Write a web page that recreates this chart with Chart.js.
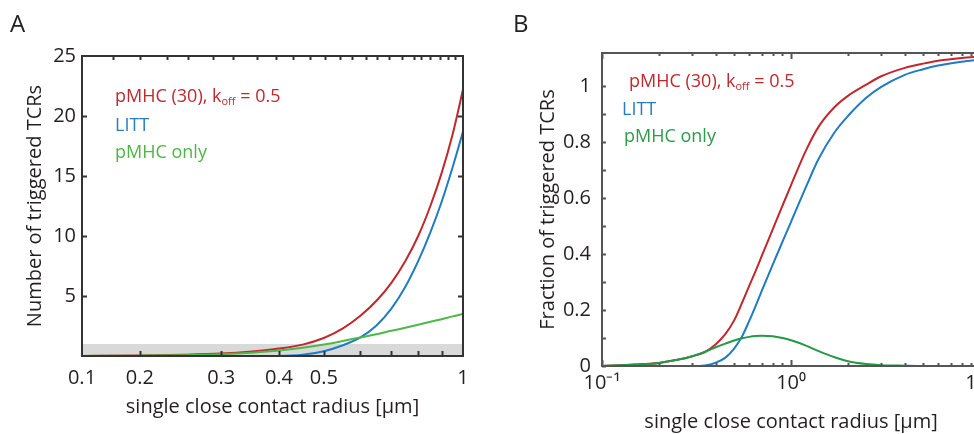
<!DOCTYPE html>
<html>
<head>
<meta charset="utf-8">
<script src="https://cdn.jsdelivr.net/npm/chart.js@4.4.1/dist/chart.umd.min.js"></script>
<style>
  html, body { margin: 0; padding: 0; background: #fff; overflow: hidden; width: 974px; height: 434px; }
  #wrap { position: relative; width: 974px; height: 434px; overflow: hidden; }
  canvas { position: absolute; top: 0; }
  #chartA { left: 0; }
  #chartB { left: 487px; }
  .txt { position: absolute; font-family: "Open Sans", sans-serif; white-space: nowrap; line-height: 1; }
  .letter { font-size: 24px; color: #222; }
  .leg { font-size: 18px; }
  .leg sub { font-size: 11px; vertical-align: -3px; }
</style>
</head>
<body>
<div id="wrap">
  <canvas id="chartA" width="487" height="434"></canvas>
  <canvas id="chartB" width="513" height="434"></canvas>

  <div class="txt letter" style="left:10px;top:11px">A</div>
  <div class="txt letter" style="left:513px;top:11px">B</div>

  <div class="txt leg" style="left:115px;top:86px;color:#c0282e">pMHC (30), k<sub>off</sub> = 0.5</div>
  <div class="txt leg" style="left:115px;top:115px;color:#2a7cc2">LITT</div>
  <div class="txt leg" style="left:115px;top:142px;color:#4fb548">pMHC only</div>

  <div class="txt leg" style="left:629px;top:71px;color:#c0282e">pMHC (30), k<sub>off</sub> = 0.5</div>
  <div class="txt leg" style="left:622px;top:99px;color:#2a7cc2">LITT</div>
  <div class="txt leg" style="left:624px;top:126px;color:#2e9a4b">pMHC only</div>
</div>

<script>
// ---- panel A: number of triggered TCRs vs radius ----
const radiusA = [0.15, 0.2, 0.25, 0.3, 0.35, 0.4, 0.45, 0.5, 0.55, 0.6, 0.65, 0.7, 0.75, 0.8, 0.85, 0.9, 0.95, 1.0];
const countKoff = [0.01, 0.04, 0.1, 0.2, 0.38, 0.62, 0.95, 1.5, 2.3, 3.35, 4.6, 6.1, 7.9, 10.0, 12.5, 15.3, 18.5, 22.2];
const countLitt = [0, 0, 0, 0, 0, 0.01, 0.1, 0.4, 0.9, 1.55, 2.55, 3.95, 5.75, 7.9, 10.3, 12.9, 15.75, 18.7];
const countPmhcOnly = [0.01, 0.03, 0.07, 0.15, 0.28, 0.45, 0.68, 0.95, 1.25, 1.55, 1.82, 2.1, 2.35, 2.6, 2.85, 3.07, 3.3, 3.5];
const bandRadius = [0.15, 1.0];
const bandLevel = [1, 1];

const xTicksA = [0.15, 0.2, 0.3, 0.4, 0.5, 0.6, 0.7, 0.8, 0.9, 1.0];
const xLabelsA = ['0.1', '0.2', '0.3', '0.4', '0.5', '', '', '', '', '1'];
const xTopTicksA = [0.175, 0.2, 0.229, 0.254, 0.288, 0.318, 0.358, 0.395, 0.428, 0.466, 0.503, 0.543, 0.576,
  0.616, 0.653, 0.691, 0.737, 0.783, 0.81, 0.85, 0.89, 0.93, 0.96];
const yTicksA = [5, 10, 15, 20, 25];

// ---- panel B: fraction of triggered TCRs vs radius ----
const radiusB = [0.1, 0.15, 0.2, 0.25, 0.3, 0.35, 0.4, 0.45, 0.5, 0.55, 0.6, 0.65, 0.7, 0.8, 0.9, 1.0,
  1.2, 1.4, 1.7, 2, 2.5, 3, 4, 5, 6, 8, 10];
const fracKoff = [0, 0.005, 0.011, 0.022, 0.035, 0.05, 0.078, 0.115, 0.163, 0.225, 0.285, 0.34, 0.393, 0.488, 0.572, 0.646,
  0.77, 0.855, 0.925, 0.965, 1.005, 1.035, 1.065, 1.08, 1.09, 1.1, 1.105];
const fracLitt = [0, 0, 0, 0, 0, 0.002, 0.012, 0.03, 0.062, 0.105, 0.16, 0.215, 0.268, 0.362, 0.443, 0.515,
  0.64, 0.74, 0.835, 0.893, 0.958, 0.997, 1.04, 1.06, 1.073, 1.087, 1.095];
const fracPmhcOnly = [0, 0.005, 0.011, 0.022, 0.035, 0.05, 0.067, 0.08, 0.091, 0.099, 0.104, 0.107, 0.108, 0.106, 0.1, 0.092,
  0.073, 0.053, 0.031, 0.017, 0.007, 0.003, 0.001, 0, 0, 0, 0];

const xTicksB = [0.1, 0.2, 0.3, 0.4, 0.5, 0.6, 0.7, 0.8, 0.9, 1, 2, 3, 4, 5, 6, 7, 8, 9, 10];
const xMajorB = [0.1, 1, 10];
const xLabelsB = {0.1: '10⁻¹', 1: '10⁰', 10: '10¹'};
const yTicksB = [0, 0.1, 0.2, 0.3, 0.4, 0.5, 0.6, 0.7, 0.8, 0.9, 1.0];
const yLabelsB = ['0', '', '0.2', '', '0.4', '', '0.6', '', '0.8', '', '1'];

const RED = '#c1272d', BLUE = '#1f7bc4', GREEN_A = '#4cb848', GREEN_B = '#239a45';
const FONT = '"Open Sans", sans-serif';
const TEXT = '#231f20';

const pts = (xs, ys) => xs.map((x, i) => ({x, y: ys[i]}));

function curve(data, color) {
  return {data, borderColor: color, borderWidth: 2, pointRadius: 0, fill: false,
    cubicInterpolationMode: 'monotone'};
}

// box round the plot with MATLAB style inward ticks
const boxTicks = {
  id: 'boxTicks',
  afterDatasetsDraw(chart, args, opts) {
    const {ctx, chartArea: a} = chart;
    ctx.save();
    ctx.strokeStyle = opts.color;
    ctx.lineWidth = opts.width;
    for (const m of opts.marks) {
      const s = chart.scales[m.scale];
      ctx.beginPath();
      for (const v of m.values) {
        const p = Math.round(s.getPixelForValue(v)) + 0.5;
        if (s.isHorizontal()) {
          if (m.bottom) { ctx.moveTo(p, a.bottom); ctx.lineTo(p, a.bottom - m.len); }
          if (m.top) { ctx.moveTo(p, a.top); ctx.lineTo(p, a.top + m.len); }
        } else {
          if (m.left) { ctx.moveTo(a.left, p); ctx.lineTo(a.left + m.len, p); }
          if (m.right) { ctx.moveTo(a.right, p); ctx.lineTo(a.right - m.len, p); }
        }
      }
      ctx.stroke();
    }
    ctx.strokeRect(a.left, a.top, a.right - a.left, a.bottom - a.top);
    ctx.restore();
  }
};

const tickFont = {family: FONT, size: 20};
const noGrid = {display: false, drawTicks: false};

new Chart(document.getElementById('chartA'), {
  type: 'line',
  data: {
    datasets: [
      curve(pts(radiusA, countPmhcOnly), GREEN_A),
      curve(pts(radiusA, countLitt), BLUE),
      curve(pts(radiusA, countKoff), RED),
      {data: pts(bandRadius, bandLevel), borderWidth: 0, pointRadius: 0, fill: 'origin',
        backgroundColor: '#d9d9d9', order: 10}
    ]
  },
  options: {
    responsive: false,
    animation: false,
    events: [],
    layout: {padding: {left: 0, right: 24, top: 56, bottom: 0}},
    plugins: {
      legend: {display: false},
      tooltip: {enabled: false},
      boxTicks: {
        color: '#333', width: 2,
        marks: [
          {scale: 'x', values: xTicksA.slice(1, -1), len: 5, bottom: true},
          {scale: 'x', values: xTopTicksA, len: 4, top: true},
          {scale: 'y', values: yTicksA.slice(0, -1), len: 5, left: true, right: true}
        ]
      }
    },
    scales: {
      x: {
        type: 'logarithmic', min: 0.15, max: 1,
        afterBuildTicks: s => { s.ticks = xTicksA.map(v => ({value: v})); },
        afterFit: s => { s.height = 78; },
        grid: noGrid, border: {display: false},
        ticks: {autoSkip: false, maxRotation: 0, padding: 10, color: TEXT, font: tickFont,
          callback: (v, i) => xLabelsA[i]},
        title: {display: true, text: 'single close contact radius [µm]', color: TEXT,
          font: tickFont, padding: {bottom: 15}}
      },
      y: {
        min: 0, max: 25,
        afterBuildTicks: s => { s.ticks = yTicksA.map(v => ({value: v})); },
        afterFit: s => { s.width = 82; },
        grid: noGrid, border: {display: false},
        ticks: {padding: 6, color: TEXT, font: tickFont},
        title: {display: true, text: 'Number of triggered TCRs', color: TEXT,
          font: tickFont, padding: {top: 23}}
      }
    }
  },
  plugins: [boxTicks]
});

new Chart(document.getElementById('chartB'), {
  type: 'line',
  data: {
    datasets: [
      curve(pts(radiusB, fracPmhcOnly), GREEN_B),
      curve(pts(radiusB, fracLitt), BLUE),
      curve(pts(radiusB, fracKoff), RED)
    ]
  },
  options: {
    responsive: false,
    animation: false,
    events: [],
    layout: {padding: {left: 0, right: 16, top: 53, bottom: 0}},
    plugins: {
      legend: {display: false},
      tooltip: {enabled: false},
      boxTicks: {
        color: '#555', width: 2,
        marks: [
          {scale: 'x', values: xTicksB.filter(v => !xMajorB.includes(v)), len: 3, bottom: true, top: true},
          {scale: 'x', values: xMajorB, len: 6, bottom: true, top: true},
          {scale: 'y', values: yTicksB, len: 4, left: true}
        ]
      }
    },
    scales: {
      x: {
        type: 'logarithmic', min: 0.1, max: 10,
        afterBuildTicks: s => { s.ticks = xTicksB.map(v => ({value: v})); },
        afterFit: s => { s.height = 68; },
        grid: noGrid, border: {display: false},
        ticks: {autoSkip: false, maxRotation: 0, padding: 5, color: TEXT, font: tickFont,
          callback: v => xLabelsB[v] || ''},
        title: {display: true, text: 'single close contact radius [µm]', color: TEXT,
          font: tickFont, padding: {bottom: 0}}
      },
      y: {
        min: 0, max: 1.118,
        afterBuildTicks: s => { s.ticks = yTicksB.map(v => ({value: v})); },
        afterFit: s => { s.width = 115; },
        grid: noGrid, border: {display: false},
        ticks: {padding: 11, color: TEXT, font: tickFont, callback: (v, i) => yLabelsB[i]},
        title: {display: true, text: 'Fraction of triggered TCRs', color: TEXT,
          font: tickFont, padding: {top: 49}}
      }
    }
  },
  plugins: [boxTicks]
});
</script>
</body>
</html>
